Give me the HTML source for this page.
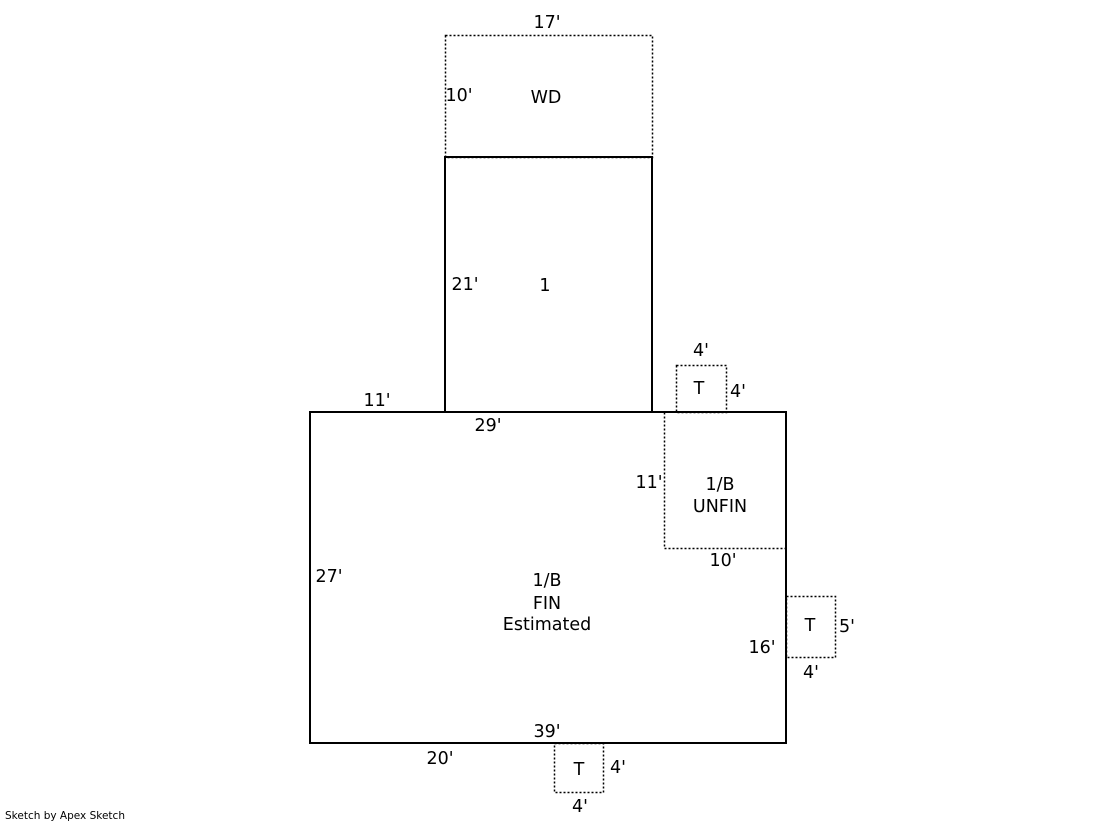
<!DOCTYPE html>
<html><head><meta charset="utf-8"><style>
html,body{margin:0;padding:0;background:#fff;}
svg{display:block;}
text{font-family:"DejaVu Sans","Liberation Sans",sans-serif;font-size:17.5px;fill:#000;}
</style></head><body>
<svg width="1119" height="821" viewBox="0 0 1119 821" xmlns="http://www.w3.org/2000/svg">
<g fill="none" stroke="#000" stroke-width="1.5" stroke-dasharray="2,2">
<rect x="445.5" y="35.5" width="207" height="122"/>
<rect x="676.5" y="365.5" width="50" height="47"/>
<polyline points="664.5,412.5 664.5,548.5 786.5,548.5"/>
<rect x="786.5" y="596.5" width="49" height="61"/>
<rect x="554.5" y="743.5" width="49" height="49"/>
</g>
<g fill="none" stroke="#000" stroke-width="2">
<rect x="445" y="157" width="207" height="255"/>
<rect x="310" y="412" width="476" height="331"/>
</g>
<g text-anchor="middle">
<text x="547" y="28">17'</text>
<text x="459" y="101">10'</text>
<text x="546" y="103">WD</text>
<text x="465" y="290">21'</text>
<text x="545" y="291">1</text>
<text x="701" y="356">4'</text>
<text x="699" y="394">T</text>
<text x="738" y="397">4'</text>
<text x="377" y="406">11'</text>
<text x="488" y="431">29'</text>
<text x="649" y="488">11'</text>
<text x="720" y="490">1/B</text>
<text x="720" y="512">UNFIN</text>
<text x="723" y="566">10'</text>
<text x="329" y="582">27'</text>
<text x="547" y="586">1/B</text>
<text x="547" y="609">FIN</text>
<text x="547" y="630">Estimated</text>
<text x="810" y="631">T</text>
<text x="847" y="632">5'</text>
<text x="762" y="653">16'</text>
<text x="811" y="678">4'</text>
<text x="547" y="737">39'</text>
<text x="440" y="764">20'</text>
<text x="579" y="775">T</text>
<text x="618" y="773">4'</text>
<text x="580" y="812">4'</text>
</g>
<text x="5" y="819" style="font-size:10.5px">Sketch by Apex Sketch</text>
</svg>
</body></html>
